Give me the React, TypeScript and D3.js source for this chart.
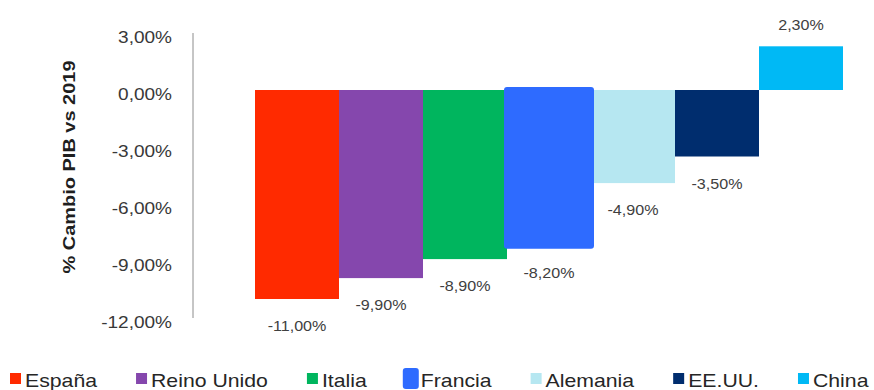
import React from "react";
import * as d3 from "d3";

const countries = ["España", "Reino Unido", "Italia", "Francia", "Alemania", "EE.UU.", "China"];
const values = [-11.0, -9.9, -8.9, -8.2, -4.9, -3.5, 2.3];
const colors = ["#FF2A00", "#8547AD", "#00B55E", "#2E6BFF", "#B6E7F1", "#002D6E", "#00B9F5"];
const yTicks = [3, 0, -3, -6, -9, -12];
const highlighted = "Francia";
const yTitle = "% Cambio PIB vs 2019";

const W = 874;
const H = 390;
const FONT = "'Liberation Sans', Arial, sans-serif";

const fmt = (v: number) => v.toFixed(2).replace(".", ",") + "%";

function measure(text: string, font: string): number {
  const c = document.createElement("canvas");
  const ctx = c.getContext("2d");
  if (!ctx) return text.length * 9;
  ctx.font = font;
  return ctx.measureText(text).width;
}

export default function App() {
  const y = d3.scaleLinear().domain([-12, 3]).range([318, 33]);
  const x = d3.scaleBand<string>().domain(countries).range([255, 843]).paddingInner(0).paddingOuter(0);
  const bw = x.bandwidth();
  const axisX = 193;
  const sxTick = 1.12;
  const sxVal = 1.15;
  const sxLeg = 1.18;

  // legend layout
  const legFont = `18px ${FONT}`;
  let cur = 10;
  const legend = countries.map((c, i) => {
    const mx = cur;
    const tw = measure(c, legFont) * sxLeg;
    cur = mx + 15 + tw + 39;
    return { name: c, color: colors[i], mx, tx: mx + 15 };
  });

  const order = countries
    .map((c, i) => i)
    .sort((a, b) => (countries[a] === highlighted ? 1 : 0) - (countries[b] === highlighted ? 1 : 0));

  return (
    <svg width={W} height={H} style={{ display: "block", position: "absolute", left: 0, top: 0 }} fontFamily={FONT}>
      <rect x={0} y={0} width={W} height={H} fill="#ffffff" />
      {/* y axis line */}
      <line x1={axisX} x2={axisX} y1={y(3)} y2={y(-12)} stroke="#8c8c8c" strokeWidth={1} />
      {/* tick labels */}
      {yTicks.map((t) => (
        <text
          key={t}
          transform={`translate(172,${y(t) + 10}) scale(${sxTick},1)`}
          textAnchor="end"
          fontSize={17}
          fill="#383838"
        >
          {fmt(t)}
        </text>
      ))}
      {/* axis title */}
      <text
        transform={`translate(75,167) rotate(-90)`}
        textAnchor="middle"
        fontSize={17}
        fontWeight="bold"
        fill="#1f1f1f"
        textLength={213}
        lengthAdjust="spacingAndGlyphs"
      >
        {yTitle}
      </text>
      {/* bars */}
      {order.map((i) => {
        const c = countries[i];
        const v = values[i];
        const x0 = x(c) as number;
        const top = Math.min(y(0), y(v));
        const bot = Math.max(y(0), y(v));
        const hl = c === highlighted;
        const inf = hl ? 3 : 0;
        return (
          <rect
            key={c}
            x={x0 - inf}
            y={top - inf}
            width={bw + inf * 2}
            height={bot - top + inf * 2}
            rx={hl ? 3 : 0}
            fill={colors[i]}
          />
        );
      })}
      {/* value labels */}
      {countries.map((c, i) => {
        const v = values[i];
        const cx = (x(c) as number) + bw / 2;
        const ly = v < 0 ? y(v) + 32 : y(v) - 16;
        return (
          <text
            key={c}
            transform={`translate(${cx},${ly}) scale(${sxVal},1)`}
            textAnchor="middle"
            fontSize={14}
            fill="#404040"
          >
            {fmt(v)}
          </text>
        );
      })}
      {/* legend */}
      {legend.map((l) => {
        const hl = l.name === highlighted;
        return (
          <g key={l.name}>
            {hl ? (
              <rect x={l.mx - 3} y={368} width={16} height={21} rx={3} fill={l.color} />
            ) : (
              <rect x={l.mx} y={373} width={11} height={11} fill={l.color} />
            )}
            <text
              transform={`translate(${l.tx},${386.5}) scale(${sxLeg},1)`}
              fontSize={18}
              fill="#262626"
            >
              {l.name}
            </text>
          </g>
        );
      })}
    </svg>
  );
}
